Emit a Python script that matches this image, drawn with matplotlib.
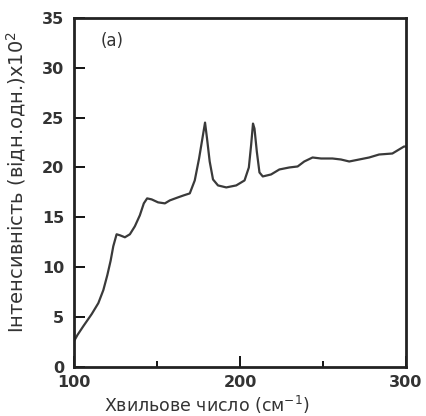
import numpy as np
import matplotlib.pyplot as plt
from matplotlib.ticker import MultipleLocator

# дані
wavenumber = [100.0, 102.0, 105.6, 110.6, 114.6, 117.6, 120.0, 122.0, 123.6, 125.6,
              127.6, 130.6, 133.6, 136.6, 139.6, 142.0, 144.0, 146.7, 150.6, 154.7,
              157.7, 162.6, 166.0, 169.7, 172.7, 175.3, 177.3, 178.9, 180.1, 181.7,
              183.7, 186.7, 191.7, 197.7, 202.7, 205.3, 206.7, 207.8, 208.7, 210.1,
              211.7, 213.7, 218.7, 223.7, 229.7, 234.7, 238.7, 243.7, 248.8, 255.7,
              260.8, 265.8, 271.8, 277.8, 283.8, 291.8, 298.8, 300.0]
intensity = [2.6, 3.2, 4.1, 5.3, 6.4, 7.7, 9.2, 10.65, 12.1, 13.3,
             13.2, 13.0, 13.3, 14.1, 15.2, 16.4, 16.9, 16.8, 16.5, 16.4,
             16.7, 17.0, 17.2, 17.4, 18.7, 20.9, 22.9, 24.5, 22.9, 20.6,
             18.8, 18.2, 18.0, 18.2, 18.7, 20.0, 22.3, 24.4, 23.9, 21.6,
             19.5, 19.1, 19.3, 19.8, 20.0, 20.1, 20.6, 21.0, 20.9, 20.9,
             20.8, 20.6, 20.8, 21.0, 21.3, 21.4, 22.1, 22.1]

x_ticks = [100, 200, 300]
y_ticks = [0, 5, 10, 15, 20, 25, 30, 35]

fig = plt.figure(figsize=(4.26, 4.16), dpi=100)
ax = fig.add_axes([0.174, 0.118, 0.779, 0.839])

ax.plot(wavenumber, intensity, color='#3a3a3a', lw=1.6)

ax.set_xlim(100, 300)
ax.set_ylim(0, 35)
ax.set_xticks(x_ticks)
ax.set_yticks(y_ticks)
ax.xaxis.set_minor_locator(MultipleLocator(50))
ax.tick_params(direction='in', length=8, width=1.3, labelsize=11.5)
ax.tick_params(axis='x', pad=6)
ax.tick_params(axis='y', pad=7)
ax.tick_params(which='minor', direction='in', length=4, width=1.3)
for lab in ax.get_xticklabels() + ax.get_yticklabels():
    lab.set_fontweight('bold')
    lab.set_color('#333333')
for s in ax.spines.values():
    s.set_linewidth(2)
    s.set_color('#222222')

ax.text(0.08, 0.92, '(a)', transform=ax.transAxes, fontsize=12, color='#333333')
ax.set_xlabel('Хвильове число (см$^{-1}$)', fontsize=12.5, color='#333333')
ax.set_ylabel('Інтенсивність (відн.одн.)x10$^{2}$', fontsize=14, color='#333333')
ax.xaxis.set_label_coords(0.40, -0.076)
ax.yaxis.set_label_coords(-0.14, 0.53)

plt.savefig('out.png', dpi=100)
